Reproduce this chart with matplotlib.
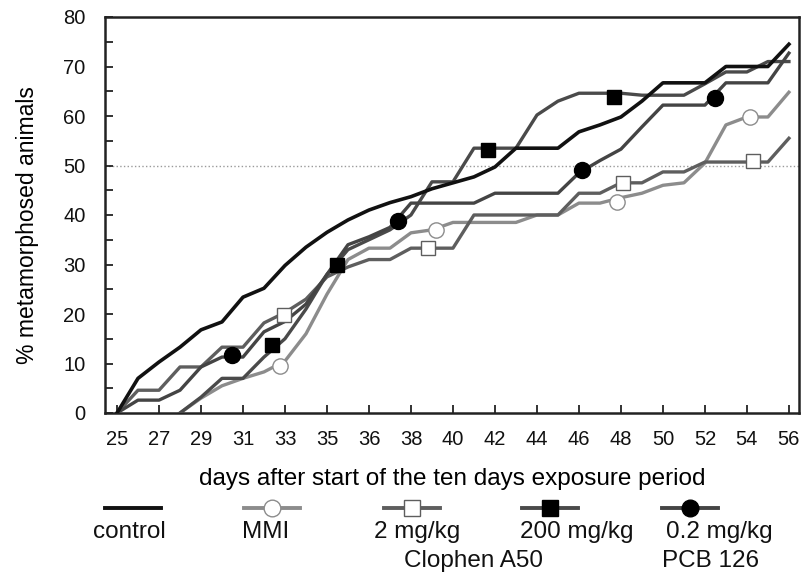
import numpy as np
import matplotlib
matplotlib.use("Agg")
import matplotlib.pyplot as plt
from matplotlib.lines import Line2D

plt.rcParams['font.family'] = ['Liberation Sans', 'DejaVu Sans']

# x positions in tick units, one value every half tick
pos = np.arange(33) * 0.5
tick_labels = ['25', '27', '29', '31', '33', '35', '36', '38', '40',
               '42', '44', '46', '48', '50', '52', '54', '56']

nan = np.nan
control = [0, 7, 10.3, 13.3, 16.8, 18.4, 23.4, 25.2, 29.8, 33.5, 36.5,
           39, 41, 42.5, 43.7, 45.3, 46.5, 47.7, 49.7, 53.5, 53.5, 53.5,
           56.8, 58.2, 59.8, 63, 66.7, 66.7, 66.7, 70, 70, 70, 74.5]
mmi = [nan, nan, nan, 0, 3, 5.5, 7, 8.3, 10.5, 16, 24,
       31, 33.3, 33.3, 36.4, 37, 38.5, 38.5, 38.5, 38.5, 40, 40,
       42.4, 42.4, 43.5, 44.4, 46, 46.5, 50.5, 58.2, 59.8, 59.8, 64.8]
clo_2 = [0, 4.6, 4.6, 9.3, 9.3, 13.3, 13.3, 18.2, 20.3, 23, 27.5,
         29.5, 31, 31, 33.3, 33.3, 33.3, 40, 40, 40, 40, 40,
         44.4, 44.4, 46.5, 46.5, 48.7, 48.7, 50.7, 50.7, 50.7, 50.7, 55.5]
clo_200 = [nan, nan, nan, 0, 3.2, 7, 7, 11.3, 15, 21, 28,
           33, 35, 37, 40, 46.7, 46.7, 53.5, 53.5, 53.5, 60.2, 63,
           64.6, 64.6, 64.6, 64.2, 64.2, 64.2, 66.5, 68.9, 68.9, 71, 71]
pcb = [0, 2.6, 2.6, 4.6, 9.3, 11.3, 11.3, 16.4, 18.5, 22, 28,
       34, 35.6, 37.5, 42.4, 42.4, 42.4, 42.4, 44.4, 44.4, 44.4, 44.4,
       48.5, 51, 53.3, 57.8, 62.2, 62.2, 62.2, 66.7, 66.7, 66.7, 72.7]

# marker positions
mmi_mx, mmi_my = [3.88, 7.6, 11.9, 15.07], [9.5, 37, 42.6, 59.8]
clo_2_mx, clo_2_my = [3.98, 7.4, 12.05, 15.14], [19.8, 33.3, 46.5, 51]
clo_200_mx, clo_200_my = [3.7, 5.24, 8.83, 11.83], [13.7, 29.9, 53.1, 63.8]
pcb_mx, pcb_my = [2.74, 6.69, 11.07, 14.24], [11.7, 38.8, 49.1, 63.6]

c_mmi = '#8c8c8c'
c_2 = '#5e5e5e'
c_200 = '#4a4a4a'
c_pcb = '#444444'

fig = plt.figure(figsize=(8.01, 5.73), dpi=100)
ax = fig.add_axes([105/801, 1-413/573, 694/801, 396/573])

lw = 2.4
ax.axhline(50, ls=':', color='#9a9a9a', lw=1.0, zorder=1)
ax.plot(pos, mmi, color=c_mmi, lw=lw, zorder=2)
ax.plot(pos, clo_2, color=c_2, lw=lw, zorder=2)
ax.plot(pos, clo_200, color=c_200, lw=lw, zorder=3)
ax.plot(pos, pcb, color=c_pcb, lw=lw, zorder=3)
ax.plot(pos, control, color='#111111', lw=2.6, zorder=4)

ax.plot(mmi_mx, mmi_my, 'o', ms=11, mfc='white', mec=c_mmi, mew=1.0, zorder=5)
ax.plot(clo_2_mx, clo_2_my, 's', ms=10, mfc='white', mec=c_2, mew=1.0, zorder=5)
ax.plot(clo_200_mx, clo_200_my, 's', ms=10.5, color='black', zorder=5)
ax.plot(pcb_mx, pcb_my, 'o', ms=11.5, color='black', zorder=5)

ax.set_xlim(-0.286, 16.24)
ax.set_ylim(0, 80)
ax.set_xticks(np.arange(len(tick_labels)))
ax.set_xticklabels(tick_labels)
ax.set_yticks(np.arange(0, 81, 10))
ax.set_yticks(np.arange(5, 80, 10), minor=True)
ax.tick_params(axis='both', which='both', direction='in', length=6, width=1.2,
               labelsize=14.5, colors='#111111')
ax.tick_params(axis='x', pad=12)
ax.tick_params(axis='y', pad=14)
for sp in ax.spines.values():
    sp.set_linewidth(1.8)
    sp.set_color('#222222')

ax.set_xlabel('days after start of the ten days exposure period', fontsize=17.5, labelpad=14)
ax.set_ylabel('% metamorphosed animals', fontsize=16.5)
ax.yaxis.set_label_coords(-0.095, 0.475)

# legend drawn below the axes
def fx(px):
    return px / 801

def fy(py):
    return 1 - py / 573

entries = [
    ('control', '#111111', None, None, 133),
    ('MMI', c_mmi, 'o', 'white', 272),
    ('2 mg/kg', c_2, 's', 'white', 412),
    ('200 mg/kg', c_200, 's', 'black', 550),
    ('0.2 mg/kg', c_pcb, 'o', 'black', 690),
]
for label, col, mk, mfc, cx in entries:
    fig.add_artist(Line2D([fx(cx - 28), fx(cx + 28)], [fy(508), fy(508)],
                          color=col, lw=2.8))
    if mk is not None:
        mec = col if mfc == 'white' else 'black'
        fig.add_artist(Line2D([fx(cx)], [fy(508)], marker=mk, ms=11 if mk == 's' else 12,
                              mfc=mfc, mec=mec, mew=1.0, lw=0))
tx = [(129, 'control'), (266, 'MMI'), (417, '2 mg/kg'), (577, '200 mg/kg'), (719, '0.2 mg/kg')]
for cx, t in tx:
    fig.text(fx(cx), fy(532), t, ha='center', va='center', fontsize=17.5, color='#111111')
fig.text(fx(473), fy(561), 'Clophen A50', ha='center', va='center', fontsize=17.5, color='#111111')
fig.text(fx(710), fy(561), 'PCB 126', ha='center', va='center', fontsize=17.5, color='#111111')

fig.savefig('out.png', dpi=100)
